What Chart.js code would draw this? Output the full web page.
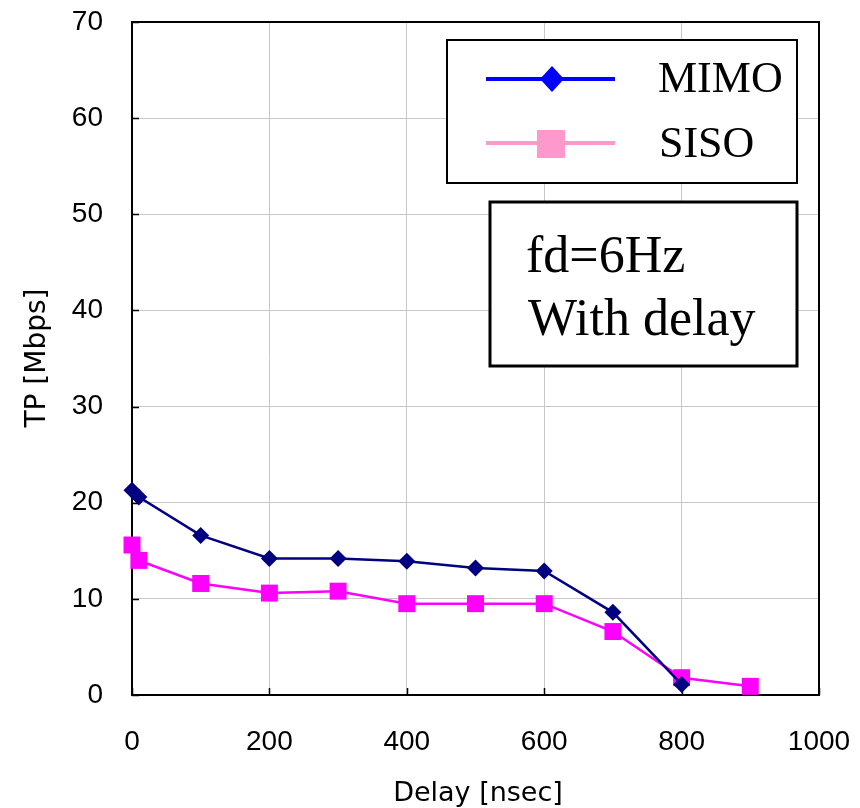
<!DOCTYPE html>
<html>
<head>
<meta charset="utf-8">
<script src="https://cdn.jsdelivr.net/npm/chart.js@4"></script>
<style>
  html, body { margin: 0; padding: 0; background: #fff; }
  #wrap { width: 860px; height: 808px; }
</style>
</head>
<body>
<div id="wrap"><canvas id="TPChart" width="860" height="808"></canvas></div>
<script>
// delay [nsec] and throughput [Mbps]
var Delay = [0, 10, 100, 200, 300, 400, 500, 600, 700, 800, 900];
var MIMO = [21.3, 20.6, 16.6, 14.2, 14.2, 13.9, 13.2, 12.9, 8.6, 1.1, null];
var SISO = [15.6, 14.0, 11.6, 10.6, 10.8, 9.5, 9.5, 9.5, 6.6, 1.8, 0.9];
var SeriesName = ['MIMO', 'SISO'];
var NoteLines = ['fd=6Hz', 'With delay'];
var XTitle = 'Delay [nsec]';
var YTitle = 'TP [Mbps]';

function toPoints(ys) {
  var pts = [];
  for (var i = 0; i < Delay.length; i++) {
    if (ys[i] !== null) pts.push({ x: Delay[i], y: ys[i] });
  }
  return pts;
}

function noPad(s) {
  s.paddingTop = 0; s.paddingBottom = 0;
  s.paddingLeft = 0; s.paddingRight = 0;
}

// frame, inward ticks, axis titles, legend and note box
var decorPlugin = {
  id: 'decor',
  beforeDatasetsDraw: function(chart) {
    var ctx = chart.ctx;
    var a = chart.chartArea;
    var xs = chart.scales.x, ys = chart.scales.y;
    ctx.save();
    // inward tick marks
    ctx.strokeStyle = '#000';
    ctx.lineWidth = 1.5;
    ctx.beginPath();
    ys.ticks.forEach(function(t) {
      var py = Math.round(ys.getPixelForValue(t.value)) + 0.5;
      ctx.moveTo(a.left, py); ctx.lineTo(a.left + 7, py);
    });
    xs.ticks.forEach(function(t) {
      var px = Math.round(xs.getPixelForValue(t.value)) + 0.5;
      ctx.moveTo(px, a.bottom); ctx.lineTo(px, a.bottom - 7);
    });
    ctx.stroke();
    // frame
    ctx.lineWidth = 2;
    ctx.strokeRect(a.left, a.top, a.right - a.left, a.bottom - a.top);
    ctx.restore();
  },
  afterDraw: function(chart) {
    var ctx = chart.ctx;
    ctx.save();

    // axis titles
    ctx.fillStyle = '#000';
    ctx.textAlign = 'center';
    ctx.textBaseline = 'middle';
    ctx.font = '27px "DejaVu Sans"';
    ctx.fillText(XTitle, 478, 794);
    ctx.save();
    ctx.translate(38, 358);
    ctx.rotate(-Math.PI / 2);
    ctx.font = '28px "DejaVu Sans"';
    ctx.fillText(YTitle, 0, 0);
    ctx.restore();

    // legend box
    ctx.fillStyle = '#fff';
    ctx.fillRect(447, 40, 350, 143);
    ctx.strokeStyle = '#000';
    ctx.lineWidth = 2;
    ctx.strokeRect(447, 40, 350, 143);

    ctx.lineWidth = 4;
    ctx.strokeStyle = '#0000FF';
    ctx.beginPath(); ctx.moveTo(486, 79); ctx.lineTo(615, 79); ctx.stroke();
    ctx.fillStyle = '#0000FF';
    ctx.beginPath();
    ctx.moveTo(552, 66); ctx.lineTo(564, 79); ctx.lineTo(552, 92); ctx.lineTo(540, 79);
    ctx.closePath(); ctx.fill();

    ctx.strokeStyle = '#FF99CC';
    ctx.beginPath(); ctx.moveTo(486, 143); ctx.lineTo(615, 143); ctx.stroke();
    ctx.fillStyle = '#FF99CC';
    ctx.fillRect(537, 130, 28, 28);

    ctx.fillStyle = '#000';
    ctx.textAlign = 'left';
    ctx.textBaseline = 'alphabetic';
    ctx.font = '44px "Liberation Serif"';
    ctx.fillText(SeriesName[0], 658, 92);
    ctx.fillText(SeriesName[1], 659, 157);

    // note box
    ctx.fillStyle = '#fff';
    ctx.fillRect(490, 202, 307, 164);
    ctx.strokeStyle = '#000';
    ctx.lineWidth = 3;
    ctx.strokeRect(490, 202, 307, 164);
    ctx.fillStyle = '#000';
    ctx.font = '52px "Liberation Serif"';
    ctx.fillText(NoteLines[0], 526, 272);
    ctx.fillText(NoteLines[1], 528, 335);

    ctx.restore();
  }
};

var ctx = document.getElementById('TPChart');
new Chart(ctx, {
  type: 'line',
  data: {
    datasets: [{
      label: SeriesName[0],
      data: toPoints(MIMO),
      borderColor: '#000080',
      backgroundColor: '#000080',
      borderWidth: 2.5,
      pointStyle: 'rectRot',
      pointRadius: 8.5,
      pointBorderWidth: 0,
      tension: 0,
      clip: false
    }, {
      label: SeriesName[1],
      data: toPoints(SISO),
      borderColor: '#FF00FF',
      backgroundColor: '#FF00FF',
      borderWidth: 2.5,
      pointStyle: 'rect',
      pointRadius: 12,
      pointBorderWidth: 0,
      tension: 0,
      clip: false
    }]
  },
  options: {
    responsive: false,
    animation: false,
    layout: { padding: { top: 22, right: 41, left: 0, bottom: 0 } },
    plugins: {
      legend: { display: false },
      tooltip: { enabled: false }
    },
    scales: {
      x: {
        type: 'linear',
        min: 0, max: 1000,
        afterFit: function(s) { s.height = 113; noPad(s); },
        ticks: {
          stepSize: 200,
          color: '#000',
          padding: 30,
          maxRotation: 0,
          callback: function(v) { return String(v); },
          font: { family: 'Liberation Sans', size: 28 }
        },
        grid: { color: '#C8C8C8', lineWidth: 1, drawTicks: false },
        border: { display: false }
      },
      y: {
        min: 0, max: 70,
        afterFit: function(s) { s.width = 132; noPad(s); },
        ticks: {
          stepSize: 10,
          color: '#000',
          padding: 29,
          font: { family: 'Liberation Sans', size: 28 }
        },
        grid: { color: '#C8C8C8', lineWidth: 1, drawTicks: false },
        border: { display: false }
      }
    }
  },
  plugins: [decorPlugin]
});
</script>
</body>
</html>
